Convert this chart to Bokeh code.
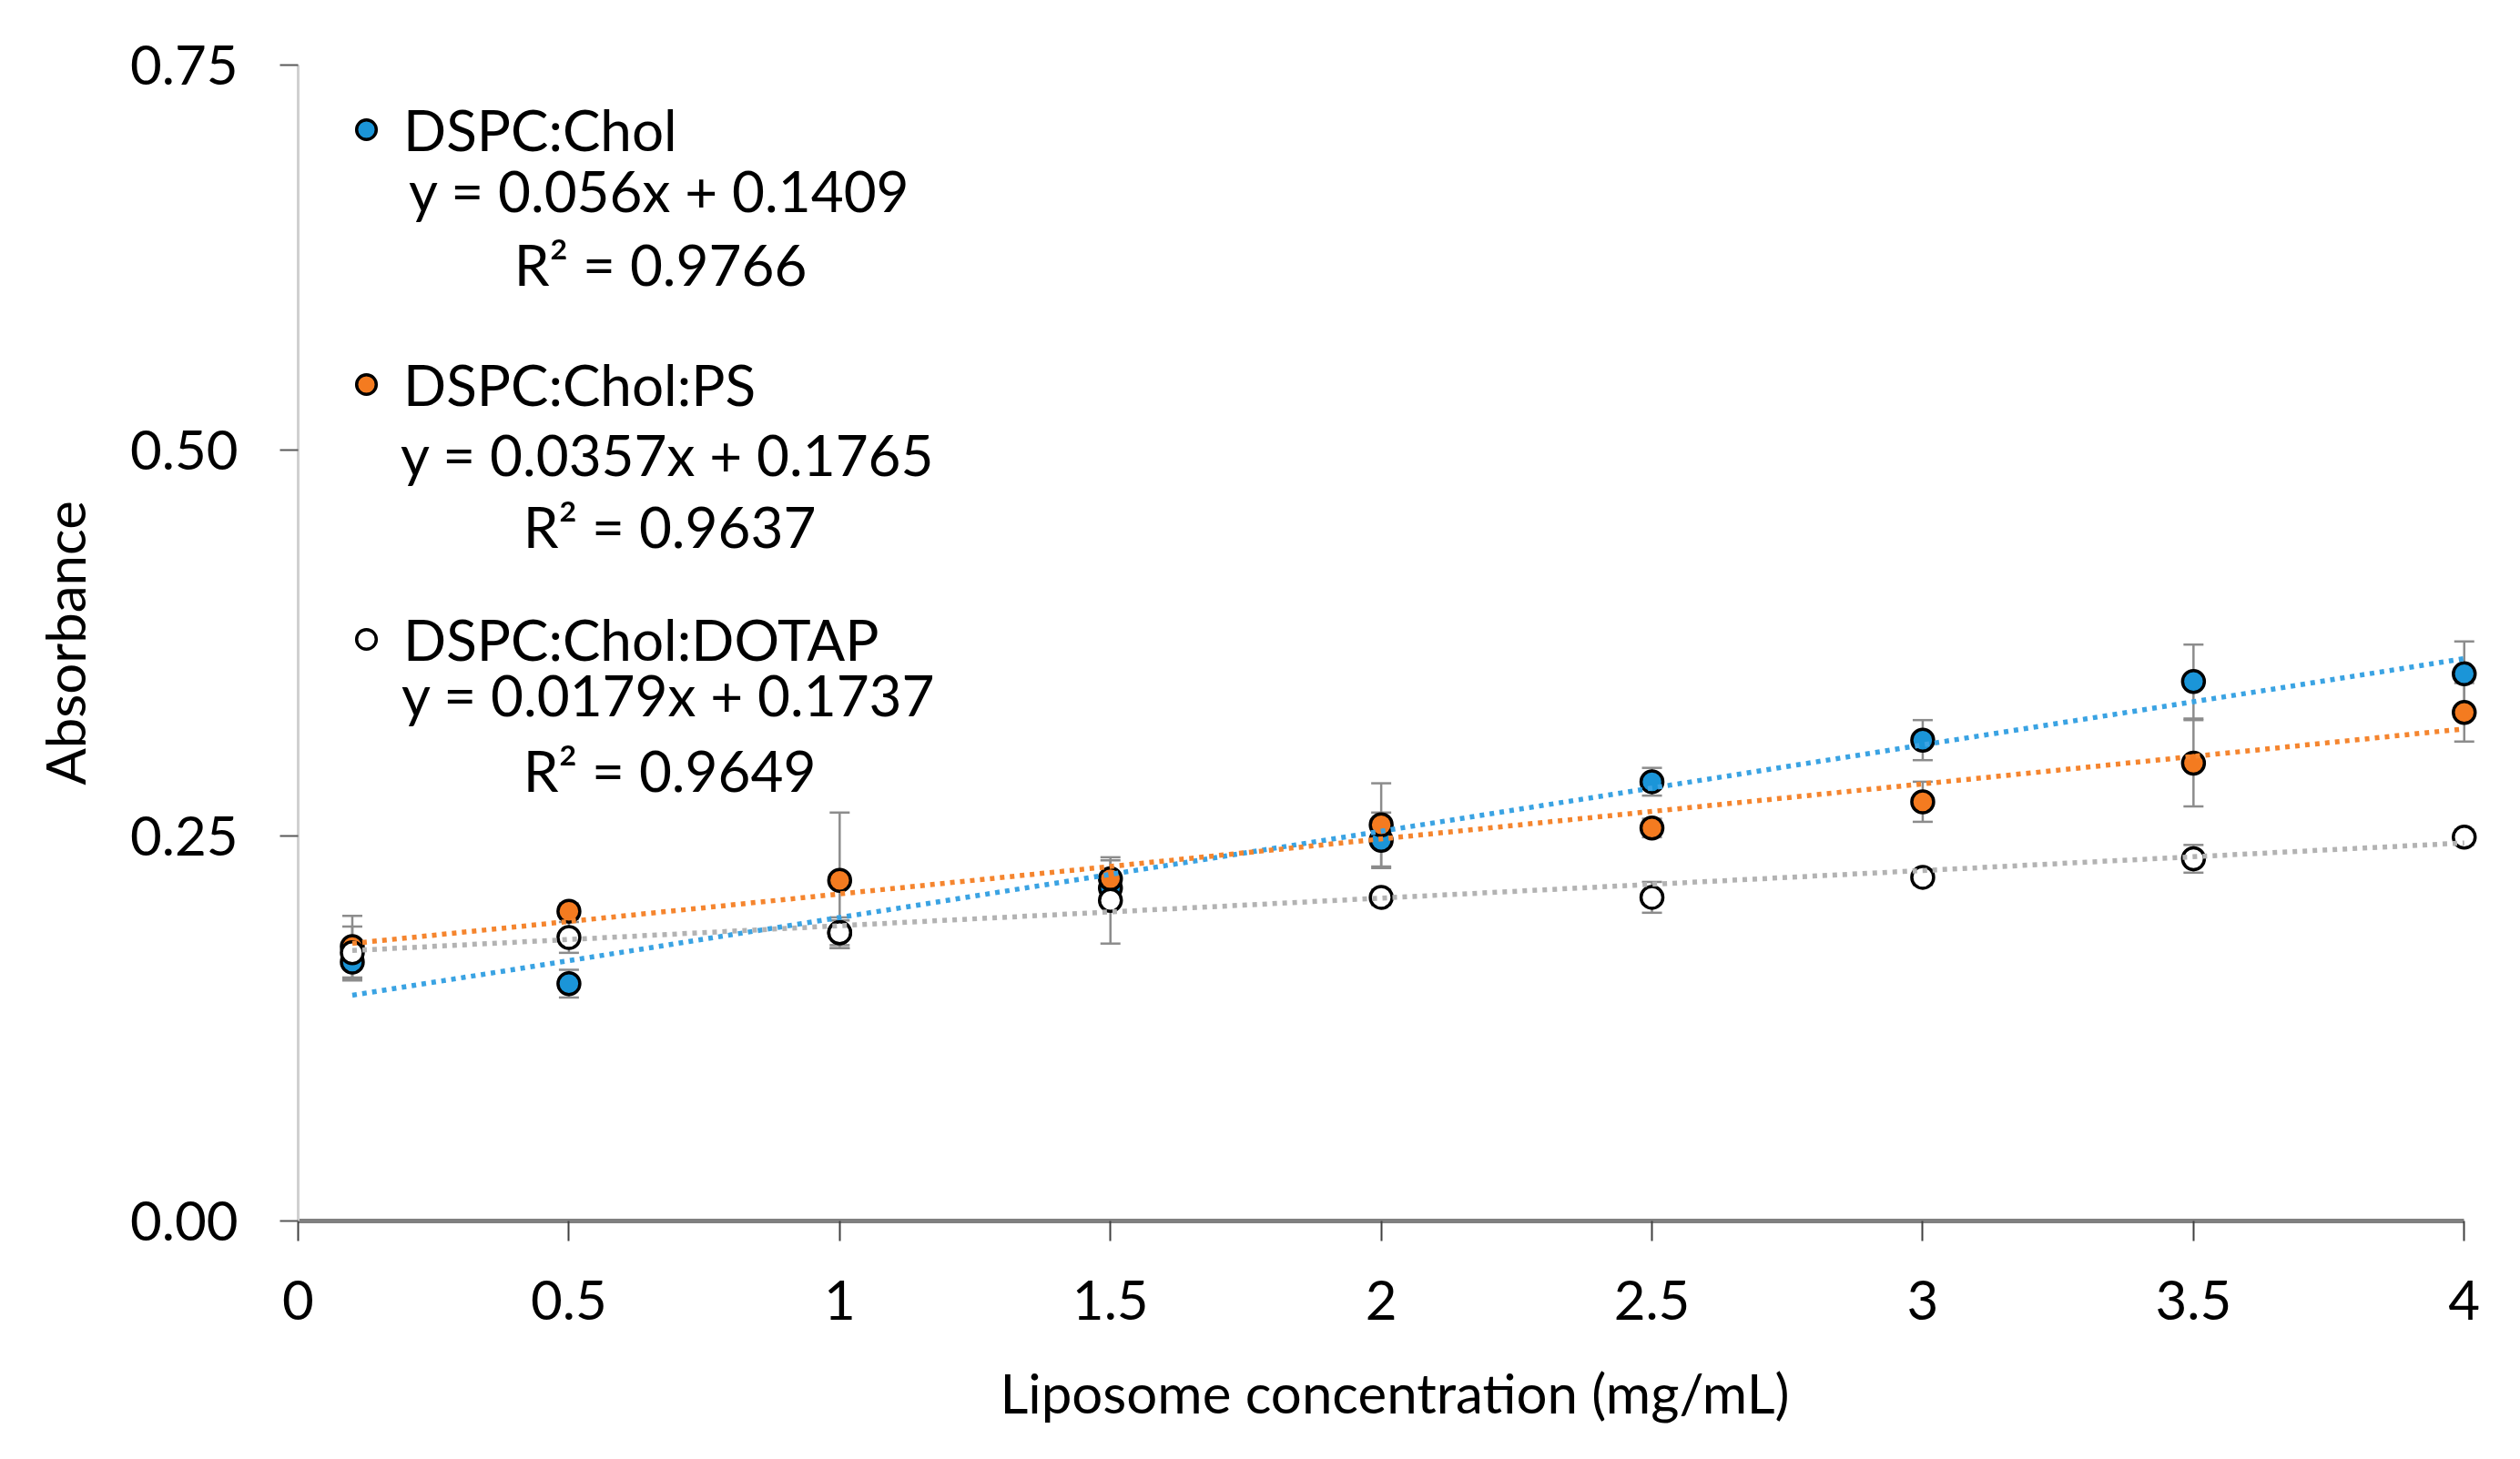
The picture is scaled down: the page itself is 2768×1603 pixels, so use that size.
from bokeh.plotting import figure
from bokeh.models import (Range1d, FixedTicker, Whisker, ColumnDataSource, Legend,
                          LegendItem, Label, TeeHead)
from bokeh.embed import file_html
from bokeh.resources import INLINE

# ---------------- data ----------------
conc = [0.1, 0.5, 1, 1.5, 2, 2.5, 3, 3.5, 4]

chol_mean = [0.168, 0.154, 0.187, 0.216, 0.247, 0.285, 0.312, 0.350, 0.355]
chol_sd = [0.012, 0.009, 0.008, 0.008, 0.018, 0.009, 0.013, 0.024, 0.021]

ps_mean = [0.178, 0.201, 0.221, 0.222, 0.257, 0.255, 0.272, 0.297, 0.330]
ps_sd = [0.020, 0.005, 0.044, 0.012, 0.027, 0.006, 0.013, 0.028, 0.019]

dotap_mean = [0.174, 0.184, 0.187, 0.208, 0.210, 0.210, 0.223, 0.235, 0.249]
dotap_sd = [0.017, 0.010, 0.010, 0.028, 0.005, 0.010, 0.005, 0.009, 0.005]

series_names = ["DSPC:Chol", "DSPC:Chol:PS", "DSPC:Chol:DOTAP"]
slopes = [0.056, 0.0357, 0.0179]
intercepts = [0.1409, 0.1765, 0.1737]
r_squared = ["0.9766", "0.9637", "0.9649"]

x_ticks = [0, 0.5, 1, 1.5, 2, 2.5, 3, 3.5, 4]
x_tick_labels = ["0", "0.5", "1", "1.5", "2", "2.5", "3", "3.5", "4"]
y_ticks = [0, 0.25, 0.5, 0.75]
y_tick_labels = ["0.00", "0.25", "0.50", "0.75"]

x_title = "Liposome concentration (mg/mL)"
y_title = "Absorbance"

# ---------------- styles ----------------
FONT = "Lato"
fills = ["#1b95d8", "#f47b20", "#ffffff"]
trend_colors = ["#3aa3e3", "#f5852e", "#b3b3b3"]
err_color = "#8c8c8c"

p = figure(
    frame_width=2409, frame_height=1270,
    min_border_left=327, min_border_right=24, min_border_top=71, min_border_bottom=254,
    x_range=Range1d(0, 4.05), y_range=Range1d(0, 0.75),
    output_backend="svg", toolbar_location=None, tools="",
)
p.outline_line_color = None
p.xgrid.visible = False
p.ygrid.visible = False
p.background_fill_color = "white"
p.border_fill_color = "white"

# axes
xa = p.xaxis[0]
xa.ticker = FixedTicker(ticks=x_ticks)
xa.major_label_overrides = {t: l for t, l in zip(x_ticks, x_tick_labels)}
xa.bounds = (0, 4)
xa.axis_line_color = "#808080"
xa.axis_line_width = 5
xa.major_tick_line_color = "#404040"
xa.major_tick_line_width = 2
xa.major_tick_out = 22
xa.major_tick_in = 0
xa.minor_tick_line_color = None
xa.major_label_text_font = FONT
xa.major_label_text_font_size = "60px"
xa.major_label_text_color = "#000000"
xa.major_label_standoff = 43
xa.axis_label = x_title
xa.axis_label_text_font = FONT
xa.axis_label_text_font_size = "60px"
xa.axis_label_text_font_style = "normal"
xa.axis_label_text_color = "#000000"
xa.axis_label_standoff = 41

ya = p.yaxis[0]
ya.ticker = FixedTicker(ticks=y_ticks)
ya.major_label_overrides = {t: l for t, l in zip(y_ticks, y_tick_labels)}
ya.bounds = (0, 0.75)
ya.axis_line_color = "#d0d0d0"
ya.axis_line_width = 3
ya.major_tick_line_color = "#595959"
ya.major_tick_line_width = 2
ya.major_tick_out = 20
ya.major_tick_in = 0
ya.minor_tick_line_color = None
ya.major_label_text_font = FONT
ya.major_label_text_font_size = "60px"
ya.major_label_text_color = "#000000"
ya.major_label_standoff = 46
ya.axis_label = y_title
ya.axis_label_text_font = FONT
ya.axis_label_text_font_size = "60px"
ya.axis_label_text_font_style = "normal"
ya.axis_label_text_color = "#000000"
ya.axis_label_standoff = 33

means = [chol_mean, ps_mean, dotap_mean]
sds = [chol_sd, ps_sd, dotap_sd]

# error bars (behind markers)
for m, s in zip(means, sds):
    src = ColumnDataSource(dict(x=conc,
                                upper=[a + b for a, b in zip(m, s)],
                                lower=[a - b for a, b in zip(m, s)]))
    w = Whisker(base="x", upper="upper", lower="lower", source=src,
                line_color=err_color, line_width=2.5, level="underlay",
                upper_head=TeeHead(size=22, line_color=err_color, line_width=2.5),
                lower_head=TeeHead(size=22, line_color=err_color, line_width=2.5))
    p.add_layout(w)

# markers
marker_renderers = []
for m, fc in zip(means, fills):
    r = p.scatter(conc, m, size=24, fill_color=fc, line_color="#000000", line_width=3.5)
    marker_renderers.append(r)

# trendlines (on top)
for sl, ic, tc in zip(slopes, intercepts, trend_colors):
    xs = [conc[0], conc[-1]]
    ys = [sl * x + ic for x in xs]
    p.line(xs, ys, line_color=tc, line_width=5.5, line_dash="5 6")

# legend
legend = Legend(
    items=[LegendItem(label=n, renderers=[r]) for n, r in zip(series_names, marker_renderers)],
    location="top_left", orientation="vertical",
    margin=34, padding=0, glyph_width=82, glyph_height=54, label_height=54,
    label_standoff=0, spacing=206,
    label_text_font=FONT, label_text_font_size="62px", label_text_color="#000000",
    border_line_color=None, background_fill_alpha=0,
)
p.add_layout(legend)

# trendline equations
eq_pos = [(397, 1133), (406, 843), (407, 579)]
r2_pos = [(398, 1052), (408, 764), (408, 496)]
for sl, ic, r2, (ex, ey), (rx, ry) in zip(slopes, intercepts, r_squared, eq_pos, r2_pos):
    p.add_layout(Label(x=ex, y=ey, x_units="screen", y_units="screen",
                       text=f"y = {sl}x + {ic}", text_align="center", text_baseline="middle",
                       text_font=FONT, text_font_size="62px", text_color="#000000"))
    p.add_layout(Label(x=rx, y=ry, x_units="screen", y_units="screen",
                       text=f"R\u00b2 = {r2}", text_align="center", text_baseline="middle",
                       text_font=FONT, text_font_size="62px", text_color="#000000"))

open("out.html", "w").write(file_html(p, INLINE))
